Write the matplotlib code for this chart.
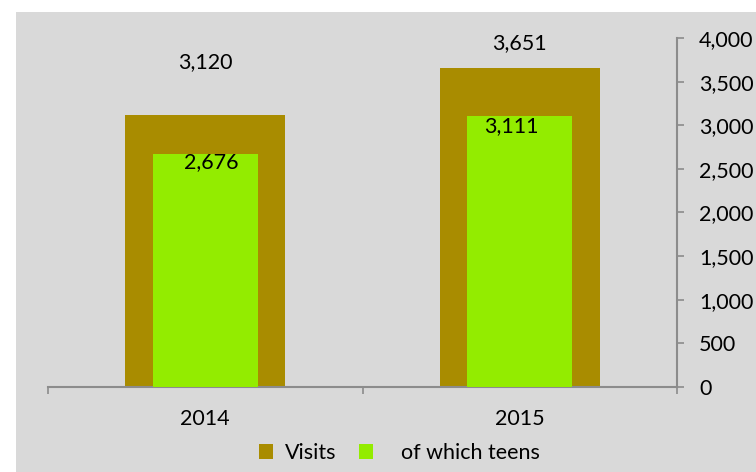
import matplotlib
matplotlib.use("Agg")
import matplotlib.pyplot as plt
from matplotlib.patches import Rectangle, Patch

years = ["2014", "2015"]
visits = [3120, 3651]
teens = [2676, 3111]
series_names = ["Visits", "of which teens"]

plt.rcParams['font.family'] = ['Lato', 'DejaVu Sans']
fs = 15.5

gold = "#A98C00"
green = "#93EC00"
bg = "#D9D9D9"
axis_grey = "#8C8C8C"

fig = plt.figure(figsize=(7.56, 4.72), dpi=100)
fig.patch.set_facecolor("white")
# grey chart area, white strip on the left and top
fig.patches.append(Rectangle((16 / 756, 0), 1, (472 - 12) / 472,
                             transform=fig.transFigure, facecolor=bg,
                             edgecolor="none", zorder=-10))

ax = fig.add_axes([48 / 756, 85 / 472, 629 / 756, 349 / 472])
ax.set_facecolor("none")

x = range(len(years))
b1 = ax.bar(x, visits, width=0.51, color=gold, zorder=2)
b2 = ax.bar(x, teens, width=0.334, color=green, zorder=3)

ax.set_xlim(-0.5, 1.5)
ax.set_ylim(0, 4000)

# labels on top of visits bars (placed by hand like the source)
vis_off = [(0, 38), (0, 18)]
for rect, v, off in zip(b1, visits, vis_off):
    ax.annotate(f"{v:,}", (rect.get_x() + rect.get_width() / 2, v),
                xytext=off, textcoords="offset points",
                ha="center", va="center", fontsize=fs)

teen_off = [(4, -6), (-6, -7.5)]
for rect, v, off in zip(b2, teens, teen_off):
    ax.annotate(f"{v:,}", (rect.get_x() + rect.get_width() / 2, v),
                xytext=off, textcoords="offset points",
                ha="center", va="center", fontsize=fs, zorder=4)

# spines
for s in ["left", "top"]:
    ax.spines[s].set_visible(False)
for s in ["right", "bottom"]:
    ax.spines[s].set_color(axis_grey)
    ax.spines[s].set_linewidth(1.5)

ax.yaxis.tick_right()
ax.set_yticks(range(0, 4001, 500))
ax.set_yticklabels([f"{t:,}" for t in range(0, 4001, 500)])
ax.tick_params(axis="y", direction="out", length=5, width=1.2,
               color=axis_grey, pad=11, labelsize=fs)

ax.set_xticks(list(x))
ax.set_xticklabels(years)
ax.tick_params(axis="x", which="major", length=0, pad=16, labelsize=fs)
ax.set_xticks([-0.5, 0.5, 1.5], minor=True)
ax.tick_params(axis="x", which="minor", direction="out", length=5,
               width=1.2, color=axis_grey)

# two legend entries, spaced as in the source
h1 = Patch(facecolor=gold, edgecolor="none")
h2 = Patch(facecolor=green, edgecolor="none")
leg1 = fig.legend([h1], [series_names[0]], loc="center left",
                  bbox_to_anchor=(240 / 756, 19 / 472), frameon=False,
                  handlelength=0.65, handleheight=0.65, handletextpad=0.52,
                  fontsize=fs)
leg2 = fig.legend([h2], [series_names[1]], loc="center left",
                  bbox_to_anchor=(340 / 756, 19 / 472), frameon=False,
                  handlelength=0.65, handleheight=0.65, handletextpad=1.3,
                  fontsize=fs)

fig.savefig("out.png", dpi=100)
